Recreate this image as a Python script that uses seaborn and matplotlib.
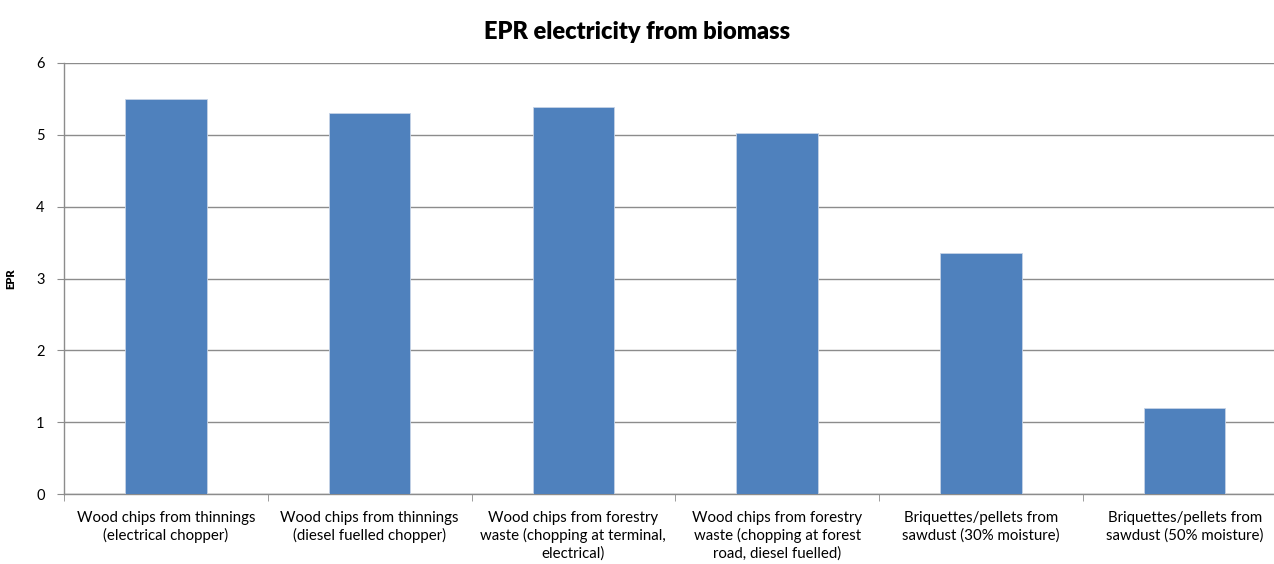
import numpy as np
import pandas as pd
import seaborn as sns
import matplotlib.pyplot as plt
from matplotlib.ticker import FixedLocator

# data
categories = [
    "Wood chips from thinnings\n(electrical chopper)",
    "Wood chips from thinnings\n(diesel fuelled chopper)",
    "Wood chips from forestry\nwaste (chopping at terminal,\nelectrical)",
    "Wood chips from forestry\nwaste (chopping at forest\nroad, diesel fuelled)",
    "Briquettes/pellets from\nsawdust (30% moisture)",
    "Briquettes/pellets from\nsawdust (50% moisture)",
]
epr_values = [5.50, 5.31, 5.39, 5.02, 3.36, 1.20]
y_ticks = [0, 1, 2, 3, 4, 5, 6]

df = pd.DataFrame({"category": categories, "EPR": epr_values})

sns.set_style("white")
plt.rcParams["font.family"] = ["Lato", "DejaVu Sans"]
plt.rcParams["text.color"] = "black"
plt.rcParams["axes.labelcolor"] = "black"
plt.rcParams["xtick.labelcolor"] = "black"
plt.rcParams["ytick.labelcolor"] = "black"

fig = plt.figure(figsize=(12.74, 5.64), dpi=100)
ax = fig.add_axes([64 / 1274, 1 - 494 / 564, 1222.5 / 1274, 431 / 564])

sns.barplot(data=df, x="category", y="EPR", color="#4F81BD", width=0.4,
            saturation=1, edgecolor="#c6d3e6", linewidth=0.6, ax=ax, zorder=3)

ax.set_ylim(0, 6)
ax.set_xlim(-0.5, len(categories) - 0.5)
ax.set_yticks(y_ticks)
ax.yaxis.grid(True, color="#8c8c8c", linewidth=1, zorder=0)
ax.xaxis.grid(False)

for side in ["top", "right"]:
    ax.spines[side].set_visible(False)
for side in ["left", "bottom"]:
    ax.spines[side].set_color("#8c8c8c")
    ax.spines[side].set_linewidth(1)

ax.tick_params(axis="y", left=True, length=5, color="#8c8c8c", labelsize=10.5, pad=9)
ax.tick_params(axis="x", which="major", length=0, labelsize=10.8, pad=12)
ax.xaxis.set_minor_locator(FixedLocator(np.arange(-0.5, len(categories), 1)))
ax.tick_params(axis="x", which="minor", bottom=True, length=5, color="#8c8c8c")
for lbl in ax.get_xticklabels():
    lbl.set_linespacing(1.3)

ax.set_xlabel("")
ax.set_ylabel("EPR", fontsize=8, fontweight="heavy", labelpad=14)
fig.text(637 / 1274, 1 - 32 / 564, "EPR electricity from biomass",
         ha="center", va="center", fontsize=17, fontweight="heavy")

fig.savefig("out.png", dpi=100)
